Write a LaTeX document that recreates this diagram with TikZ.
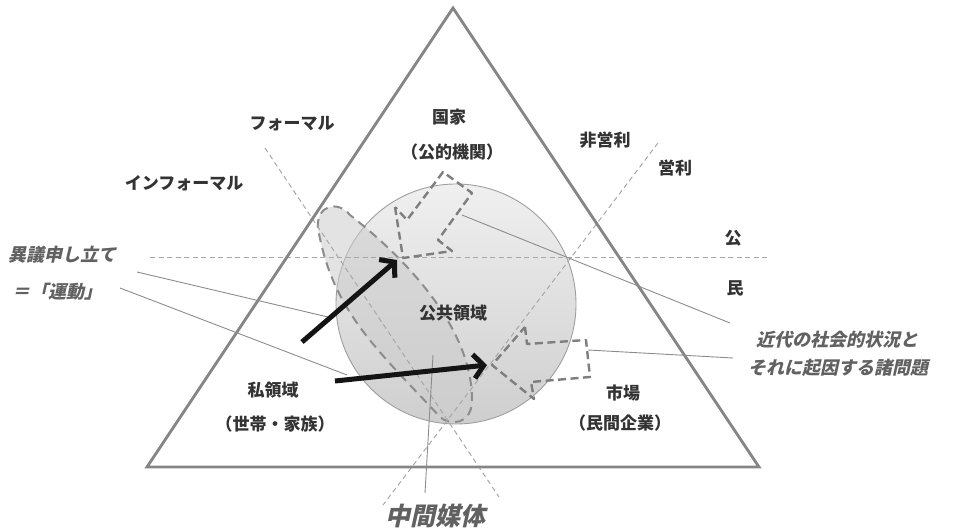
\documentclass[tikz,border=0pt]{standalone}
\usepackage{fontspec}
\newfontfamily\cjk{Noto Sans CJK JP}
\newfontfamily\cjkit[FakeSlant=0.22]{Noto Sans CJK JP}
\usetikzlibrary{arrows.meta}
\definecolor{tri}{HTML}{858585}
\definecolor{txt}{HTML}{333333}
\definecolor{itx}{HTML}{616161}
\definecolor{thinl}{HTML}{8C8C8C}
\definecolor{dashl}{HTML}{A8A8A8}
\definecolor{thick}{HTML}{7E7E7E}
\tikzset{
  lbl/.style={text=txt, font=\cjk\bfseries\fontsize{17}{19}\selectfont, inner sep=0pt},
  itlbl/.style={text=itx, font=\cjkit\bfseries\fontsize{18}{20}\selectfont, inner sep=0pt},
  divline/.style={draw=dashl, line width=1pt, dash pattern=on 5pt off 3.5pt},
  region/.style={draw=thick, line width=2.4pt, dash pattern=on 8pt off 4.5pt, line join=round},
  blobline/.style={draw=black!45, line width=2pt, dash pattern=on 9pt off 6pt},
  callout/.style={draw=thinl, line width=0.9pt},
  bigarrow/.style={draw=black!92, line width=5pt, -{Straight Barb[length=10pt,width=24pt]}},
  frame/.style={draw=tri, line width=2.8pt, line join=miter}
}
\begin{document}
\begin{tikzpicture}[x=1pt,y=-1pt]
\useasboundingbox (0,0) rectangle (954,530);
% public sphere circle
\node[circle, minimum size=240pt, inner sep=0pt, top color=black!6, bottom color=black!19, draw=black!38, line width=0.9pt] (pub) at (456,304) {};
% intermediary blob
\path[fill=black!20, fill opacity=0.55] (318,228) .. controls (316,205) and (338,200) .. (350,215)
  .. controls (410,262) and (472,330) .. (472,400)
  .. controls (472,425) and (450,426) .. (440,417)
  .. controls (380,352) and (332,312) .. (318,228) -- cycle;
\draw[blobline] (318,228) .. controls (316,205) and (338,200) .. (350,215)
  .. controls (410,262) and (472,330) .. (472,400)
  .. controls (472,425) and (450,426) .. (440,417)
  .. controls (380,352) and (332,312) .. (318,228) -- cycle;
% dividing lines
\coordinate (h1) at (150,257); \coordinate (h2) at (768,257);
\coordinate (f1) at (265,148); \coordinate (f2) at (499,497);
\coordinate (p1) at (658,143); \coordinate (p2) at (383,505);
\draw[divline] (h1) -- (h2);
\draw[divline] (f1) -- (f2);
\draw[divline] (p1) -- (p2);
% triangle
\coordinate (top) at (453,8); \coordinate (bl) at (147,467); \coordinate (br) at (759,467);
\draw[frame] (top) -- (bl) -- (br) -- cycle;
% problem regions
\draw[region] (395,207) -- (403,258) -- (452,251) -- (438,240) -- (472,193) -- (443,172) -- (407,220) -- cycle;
\draw[region] (525,327) -- (527,344) -- (586,340) -- (590,377) -- (531,382) -- (534,399) -- (492,365) -- cycle;
% labels
\node[lbl] (state) at (449,117) {国家};
\node[lbl] (stateb) at (452,152) {（公的機関）};
\node[lbl] (formal) at (292,124) {フォーマル};
\node[lbl] (informal) at (184,183) {インフォーマル};
\node[lbl] (nonprofit) at (605,140) {非営利};
\node[lbl] (profit) at (675,168) {営利};
\node[lbl] (ko) at (733,238) {公};
\node[lbl] (min) at (735,288) {民};
\node[lbl] (pubt) at (453,313) {公共領域};
\node[lbl] (priv) at (273,390) {私領域};
\node[lbl] (privb) at (275,424) {（世帯・家族）};
\node[lbl] (mkt) at (623,393) {市場};
\node[lbl] (mktb) at (620,423) {（民間企業）};
\node[itlbl, anchor=west] (dissent) at (8,255) {異議申し立て};
\node[itlbl, anchor=west] (move) at (12,292) {＝「運動」};
\node[itlbl] (modern1) at (837,340) {近代の社会的状況と};
\node[itlbl] (modern2) at (838,368) {それに起因する諸問題};
\node[itlbl, font=\cjkit\bfseries\fontsize{25}{27}\selectfont] (inter) at (435,516) {中間媒体};
% callouts
\coordinate (c1a) at (137,272); \coordinate (c1b) at (328,317);
\coordinate (c2a) at (120,288); \coordinate (c2b) at (347,375);
\coordinate (c3a) at (730,323); \coordinate (c3b) at (462,215);
\coordinate (c4a) at (733,358); \coordinate (c4b) at (588,350);
\coordinate (c5a) at (425,493); \coordinate (c5b) at (433,355);
\draw[callout] (c1a) -- (c1b);
\draw[callout] (c2a) -- (c2b);
\draw[callout] (c3a) -- (c3b);
\draw[callout] (c4a) -- (c4b);
\draw[callout] (c5a) -- (c5b);
% movement arrows
\coordinate (a1s) at (302,342); \coordinate (a1e) at (397,260);
\coordinate (a2s) at (335,381); \coordinate (a2e) at (487,365);
\draw[bigarrow] (a1s) -- (a1e);
\draw[bigarrow] (a2s) -- (a2e);
\end{tikzpicture}
\end{document}
